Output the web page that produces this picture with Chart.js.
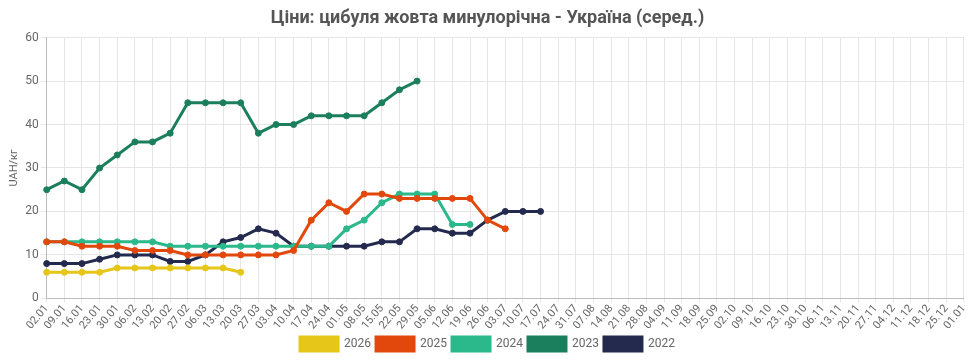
<!DOCTYPE html>
<html>
<head>
<meta charset="utf-8">
<script src="https://cdn.jsdelivr.net/npm/chart.js@4"></script>
<style>
    html, body { margin: 0; padding: 0; background: #fff; }
    #wrap { width: 974px; height: 361px; }
</style>
</head>
<body>
<div id="wrap"><canvas id="lineChart"></canvas></div>
<script>
// Week labels (dd.mm)
const weeks = ['02.01','09.01','16.01','23.01','30.01','06.02','13.02','20.02','27.02','06.03','13.03','20.03',
    '27.03','03.04','10.04','17.04','24.04','01.05','08.05','15.05','22.05','29.05','05.06','12.06','19.06','26.06',
    '03.07','10.07','17.07','24.07','31.07','07.08','14.08','21.08','28.08','04.09','11.09','18.09','25.09',
    '02.10','09.10','16.10','23.10','30.10','06.11','13.11','20.11','27.11','04.12','11.12','18.12','25.12','01.01'];

// Prices per year, UAH/кг
const y2026 = [6, 6, 6, 6, 7, 7, 7, 7, 7, 7, 7, 6];
const y2025 = [13, 13, 12, 12, 12, 11, 11, 11, 10, 10, 10, 10, 10, 10, 11, 18, 22, 20, 24, 24, 23, 23, 23, 23, 23, 18, 16];
const y2024 = [13, 13, 13, 13, 13, 13, 13, 12, 12, 12, 12, 12, 12, 12, 12, 12, 12, 16, 18, 22, 24, 24, 24, 17, 17];
const y2023 = [25, 27, 25, 30, 33, 36, 36, 38, 45, 45, 45, 45, 38, 40, 40, 42, 42, 42, 42, 45, 48, 50];
const y2022 = [8, 8, 8, 9, 10, 10, 10, 8.5, 8.5, 10, 13, 14, 16, 15, 12, 12, 12, 12, 12, 13, 13, 16, 16, 15, 15, 18, 20, 20, 20];

const yTicks = [0, 10, 20, 30, 40, 50, 60];

const seriesNames = ['2026', '2025', '2024', '2023', '2022'];
const seriesData = [y2026, y2025, y2024, y2023, y2022];
const seriesColors = ['#E6C619', '#E2480B', '#2BB88B', '#1B7F5E', '#232A4D'];

document.addEventListener('DOMContentLoaded', function() {
    const ctx = document.getElementById('lineChart').getContext('2d');
    new Chart(ctx, {
        type: 'line',
        data: {
            labels: weeks,
            datasets: seriesNames.map((name, i) => ({
                label: name,
                data: seriesData[i],
                borderColor: seriesColors[i],
                backgroundColor: seriesColors[i],
                borderWidth: 3,
                pointRadius: 3,
                pointBorderWidth: 1,
                pointHoverRadius: 4,
                fill: false,
                tension: 0
            }))
        },
        options: {
            responsive: true,
            maintainAspectRatio: false,
            animation: false,
            layout: { padding: { left: 6, right: 5, top: 0, bottom: 0 } },
            scales: {
                x: {
                    grid: { color: '#e6e6e6', drawTicks: true, tickLength: 4 },
                    border: { color: '#bbb' },
                    ticks: {
                        autoSkip: false,
                        maxRotation: 50,
                        minRotation: 50,
                        color: '#666',
                        font: { family: 'Roboto', size: 11 },
                        padding: 0
                    }
                },
                y: {
                    min: 0,
                    max: 60,
                    afterBuildTicks: axis => { axis.ticks = yTicks.map(v => ({ value: v })); },
                    grid: { color: '#e6e6e6', tickLength: 6 },
                    border: { color: '#bbb' },
                    ticks: { color: '#666', font: { family: 'Roboto', size: 12 }, padding: 2 },
                    title: {
                        display: true,
                        text: 'UAH/кг',
                        color: '#666',
                        font: { family: 'Roboto', size: 11 },
                        padding: 2
                    }
                }
            },
            plugins: {
                title: {
                    display: true,
                    text: 'Ціни: цибуля жовта минулорічна - Україна (серед.)',
                    color: '#555',
                    font: { family: 'Roboto', size: 18, weight: 'bold' },
                    padding: { top: 8, bottom: 8 }
                },
                legend: {
                    position: 'bottom',
                    labels: {
                        boxWidth: 38,
                        boxHeight: 14,
                        color: '#666',
                        font: { family: 'Roboto', size: 12 },
                        padding: 5
                    }
                },
                tooltip: { mode: 'index', intersect: false }
            }
        }
    });
});
</script>
</body>
</html>
